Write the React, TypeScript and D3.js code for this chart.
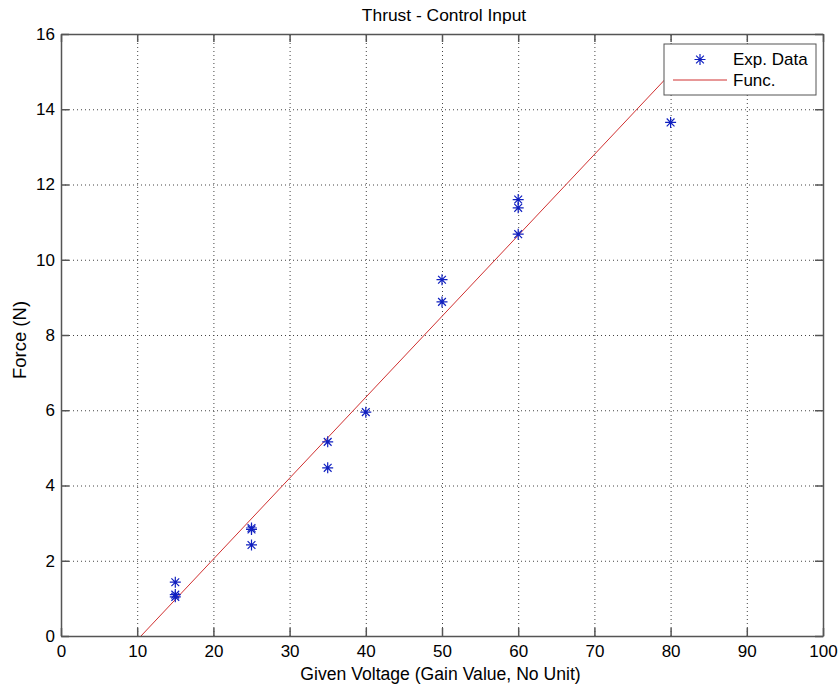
import React, { useEffect, useRef } from "react";
import * as d3 from "d3";

const voltage = [15, 15, 15, 25, 25, 25, 35, 35, 40, 50, 50, 60, 60, 60, 80];
const force = [1.43, 1.1, 1.04, 2.87, 2.83, 2.42, 5.16, 4.47, 5.95, 9.47, 8.88, 11.6, 11.38, 10.68, 13.65];

// Fitted function end points
const funcX = [10.5, 80];
const funcY = [0, 14.95];

const xTicks = [0, 10, 20, 30, 40, 50, 60, 70, 80, 90, 100];
const yTicks = [0, 2, 4, 6, 8, 10, 12, 14, 16];

const legendLabels = ["Exp. Data", "Func."];

const width = 840,
  height = 686;
const margin = { top: 34, left: 61, right: 17, bottom: 50 };

function starPath(s: number) {
  const d = s * 0.707;
  return `M${-s},0L${s},0M0,${-s}L0,${s}M${-d},${-d}L${d},${d}M${-d},${d}L${d},${-d}`;
}

export default function App() {
  const ref = useRef<SVGSVGElement>(null);

  useEffect(() => {
    const svg = d3.select(ref.current);
    svg.selectAll("*").remove();

    const innerW = width - margin.left - margin.right;
    const innerH = height - margin.top - margin.bottom;

    const x = d3.scaleLinear().domain([0, 100]).range([margin.left, margin.left + innerW]);
    const y = d3.scaleLinear().domain([0, 16]).range([margin.top + innerH, margin.top]);

    const font = "'Liberation Sans', Arial, sans-serif";
    const axisColor = "#555";

    svg.append("rect").attr("width", width).attr("height", height).attr("fill", "#fff");

    // Grid lines
    const grid = svg.append("g").attr("stroke", "#444").attr("stroke-width", 1).attr("stroke-dasharray", "1,3");
    grid
      .selectAll(".gx")
      .data(xTicks.slice(1, -1))
      .enter()
      .append("line")
      .attr("x1", (d) => x(d) + 0.5)
      .attr("x2", (d) => x(d) + 0.5)
      .attr("y1", y(0))
      .attr("y2", y(16));
    grid
      .selectAll(".gy")
      .data(yTicks.slice(1, -1))
      .enter()
      .append("line")
      .attr("x1", x(0))
      .attr("x2", x(100))
      .attr("y1", (d) => y(d) + 0.5)
      .attr("y2", (d) => y(d) + 0.5);

    // Fitted line
    svg
      .append("path")
      .datum(funcX.map((v, i) => [v, funcY[i]] as [number, number]))
      .attr("fill", "none")
      .attr("stroke", "#d03030")
      .attr("stroke-width", 1)
      .attr(
        "d",
        d3
          .line<[number, number]>()
          .x((d) => x(d[0]))
          .y((d) => y(d[1]))
      );

    // Data markers
    svg
      .selectAll(".pt")
      .data(voltage)
      .enter()
      .append("path")
      .attr("transform", (d, i) => `translate(${x(d)},${y(force[i])})`)
      .attr("d", starPath(5.5))
      .attr("stroke", "#1020c0")
      .attr("stroke-width", 1.2)
      .attr("fill", "none");

    // Axes box with inward ticks
    const tickLen = 8;
    const axesG = svg.append("g");
    const bottom = axesG.append("g").attr("transform", `translate(0,${y(0)})`).call(
      d3.axisBottom(x).tickValues(xTicks).tickSizeInner(-tickLen).tickSizeOuter(0).tickPadding(9)
    );
    const top = axesG.append("g").attr("transform", `translate(0,${y(16)})`).call(
      d3.axisTop(x).tickValues(xTicks).tickSizeInner(-tickLen).tickSizeOuter(0).tickFormat(() => "")
    );
    const left = axesG.append("g").attr("transform", `translate(${x(0)},0)`).call(
      d3.axisLeft(y).tickValues(yTicks).tickSizeInner(-tickLen).tickSizeOuter(0).tickPadding(6)
    );
    const right = axesG.append("g").attr("transform", `translate(${x(100)},0)`).call(
      d3.axisRight(y).tickValues(yTicks).tickSizeInner(-tickLen).tickSizeOuter(0).tickFormat(() => "")
    );
    [bottom, top, left, right].forEach((g) => {
      g.selectAll("path").attr("stroke", axisColor).attr("stroke-width", 1.5);
      g.selectAll("line").attr("stroke", axisColor).attr("stroke-width", 1.5);
      g.selectAll("text").attr("fill", "#000").attr("font-size", 17).attr("font-family", font);
    });
    bottom.selectAll("text").attr("dy", "0.71em");

    // Title and axis labels
    svg
      .append("text")
      .attr("x", 444)
      .attr("y", 21)
      .attr("text-anchor", "middle")
      .attr("font-family", font)
      .attr("font-size", 17.4)
      .text("Thrust - Control Input");
    svg
      .append("text")
      .attr("x", 440.5)
      .attr("y", 680)
      .attr("text-anchor", "middle")
      .attr("font-family", font)
      .attr("font-size", 17.6)
      .text("Given Voltage (Gain Value, No Unit)");
    svg
      .append("text")
      .attr("transform", `translate(26,340) rotate(-90)`)
      .attr("text-anchor", "middle")
      .attr("font-family", font)
      .attr("font-size", 18.5)
      .text("Force (N)");

    // Legend
    const legend = svg.append("g").attr("transform", "translate(664,44)");
    legend
      .append("rect")
      .attr("width", 152)
      .attr("height", 51)
      .attr("fill", "#fff")
      .attr("stroke", "#555")
      .attr("stroke-width", 1);
    legend
      .append("path")
      .attr("transform", "translate(36,15.5)")
      .attr("d", starPath(5.5))
      .attr("stroke", "#1020c0")
      .attr("stroke-width", 1.2);
    legend
      .append("line")
      .attr("x1", 9)
      .attr("x2", 63)
      .attr("y1", 36)
      .attr("y2", 36)
      .attr("stroke", "#d03030")
      .attr("stroke-width", 1);
    legend
      .selectAll(".lt")
      .data(legendLabels)
      .enter()
      .append("text")
      .attr("x", 69)
      .attr("y", (d, i) => 15.5 + i * 20.5)
      .attr("dy", "0.35em")
      .attr("font-family", font)
      .attr("font-size", 17)
      .text((d) => d);
  }, []);

  return (
    <svg
      ref={ref}
      width={width}
      height={height}
      style={{ position: "fixed", top: 0, left: 0, display: "block" }}
    ></svg>
  );
}
